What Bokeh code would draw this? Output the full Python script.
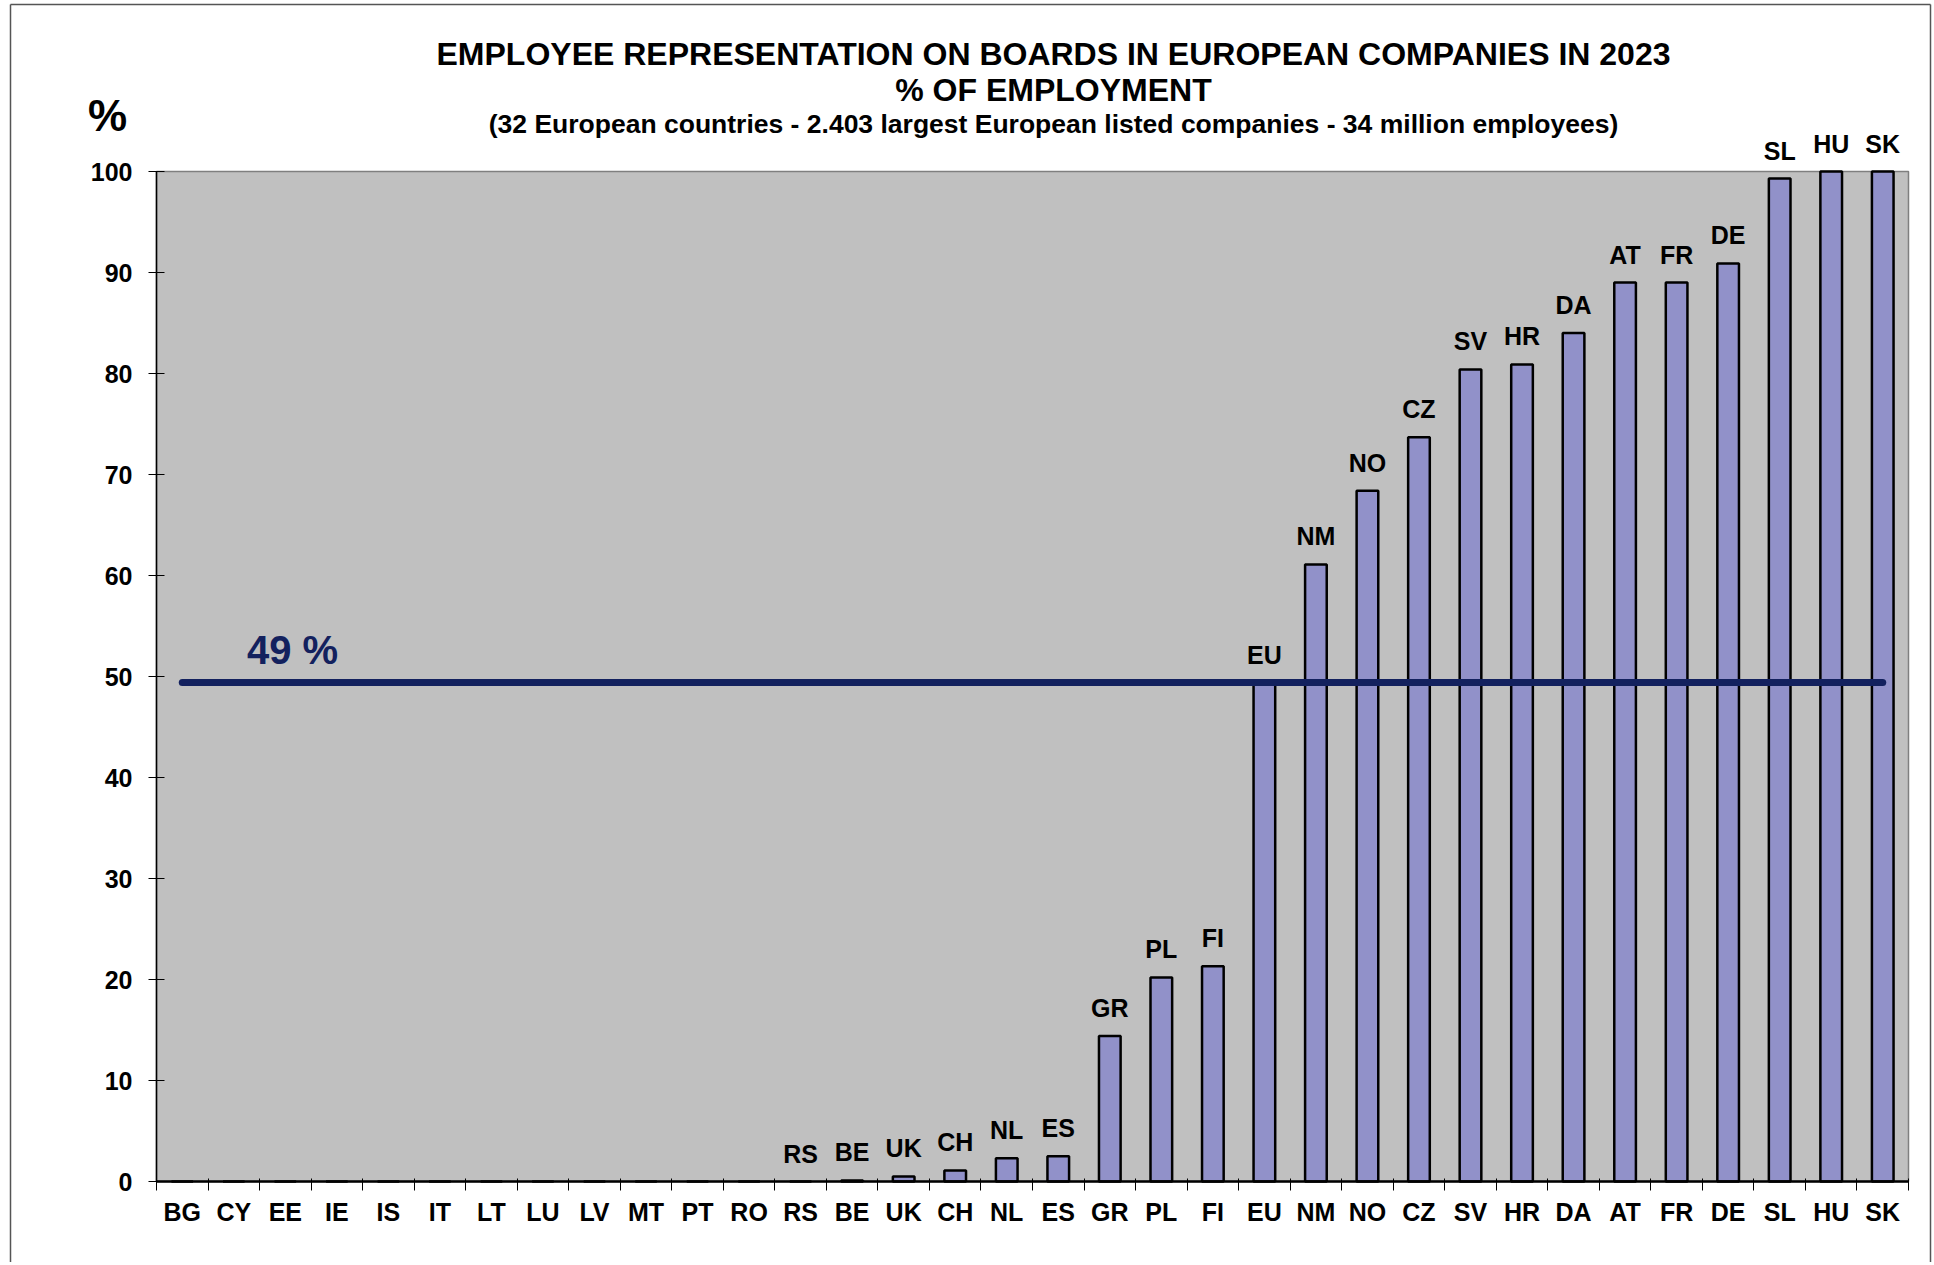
from bokeh.plotting import figure
from bokeh.models import ColumnDataSource, Range1d, FixedTicker, LabelSet, Label
from bokeh.core.properties import value
from bokeh.embed import file_html
from bokeh.resources import INLINE

# ---- data ----
countries = ["BG", "CY", "EE", "IE", "IS", "IT", "LT", "LU", "LV", "MT", "PT", "RO",
             "RS", "BE", "UK", "CH", "NL", "ES", "GR", "PL", "FI", "EU", "NM", "NO",
             "CZ", "SV", "HR", "DA", "AT", "FR", "DE", "SL", "HU", "SK"]
shares = [0, 0, 0, 0, 0, 0, 0, 0, 0, 0, 0, 0,
          0, 0.1, 0.5, 1.1, 2.3, 2.5, 14.4, 20.2, 21.3, 49.4, 61.1, 68.4,
          73.7, 80.4, 80.9, 84.0, 89.0, 89.0, 90.9, 99.3, 100, 100]
first_labelled = "RS"
eu_average = 49.4
eu_average_text = "49 %"
y_ticks = [0, 10, 20, 30, 40, 50, 60, 70, 80, 90, 100]

title1 = "EMPLOYEE REPRESENTATION ON BOARDS IN EUROPEAN COMPANIES IN 2023"
title2 = "% OF EMPLOYMENT"
subtitle = "(32 European countries - 2.403 largest European listed companies - 34 million employees)"

FONT = "Liberation Sans"
BAR = "#9191C9"
NAVY = "#13215E"
GREY = "#C0C0C0"

n = len(countries)
xs = [i + 0.5 for i in range(n)]

# ---- layout (page pixels) ----
W, H = 1934, 1262
AX_L, AX_R = 156, 1908      # plot area left / right edge
AX_B, AX_T = 1181, 171      # y=0 and y=100 positions
px_x = (AX_R - AX_L) / n
px_y = (AX_B - AX_T) / 100.0

x0 = -AX_L / px_x
x1 = n + (W - AX_R) / px_x
y0 = -(H - AX_B) / px_y
y1 = AX_B / px_y

def xv(px):
    return (px - AX_L) / px_x

def yv(py):
    return (AX_B - py) / px_y

p = figure(width=W, height=H, output_backend="svg", toolbar_location=None,
           x_range=Range1d(x0, x1), y_range=Range1d(y0, y1), min_border=0)
p.background_fill_color = "white"
p.border_fill_color = "white"
p.outline_line_color = None
p.xgrid.visible = False
p.ygrid.visible = False

# outer chart border (left, top, right)
bl, br, bt, bb = xv(10), xv(1930), yv(4), yv(H + 50)
p.segment(x0=[bl, bl, br], y0=[bb, bt, bt], x1=[bl, br, br], y1=[bt, bt, bb],
          line_color="#555555", line_width=1.5)

# grey plot area 0..100
p.quad(left=[0], right=[n], bottom=[0], top=[100], fill_color=GREY,
       line_color="#7F7F7F", line_width=1.5)

# y axis
p.yaxis.fixed_location = 0
p.yaxis.bounds = (0, 100)
p.yaxis.ticker = FixedTicker(ticks=y_ticks)
p.yaxis.major_label_text_font = FONT
p.yaxis.major_label_text_font_style = "bold"
p.yaxis.major_label_text_font_size = "25px"
p.yaxis.major_label_text_color = "black"
p.yaxis.major_tick_out = 8
p.yaxis.major_tick_in = 8
p.yaxis.minor_tick_line_color = None
p.yaxis.major_label_standoff = 16
p.yaxis.axis_line_color = "black"
p.yaxis.axis_line_width = 1.5

# x axis: labels at category centres, ticks at category boundaries
p.xaxis.fixed_location = 0
p.xaxis.bounds = (0, n)
p.xaxis.ticker = FixedTicker(ticks=xs, minor_ticks=list(range(n + 1)))
p.xaxis.major_label_overrides = {x: c for x, c in zip(xs, countries)}
p.xaxis.major_tick_out = 0
p.xaxis.major_tick_in = 0
p.xaxis.minor_tick_out = 9
p.xaxis.minor_tick_in = 3
p.xaxis.minor_tick_line_color = "black"
p.xaxis.major_label_standoff = 7
p.xaxis.major_label_text_font = FONT
p.xaxis.major_label_text_font_style = "bold"
p.xaxis.major_label_text_font_size = "25px"
p.xaxis.major_label_text_color = "black"
p.xaxis.axis_line_color = "black"
p.xaxis.axis_line_width = 2.5

src = ColumnDataSource(dict(x=xs, top=shares, name=countries))
p.vbar(x="x", top="top", width=0.42, source=src, fill_color=BAR,
       line_color="black", line_width=2.5)

# EU average line
p.line(x=[xs[0], xs[-1]], y=[eu_average, eu_average], line_color=NAVY,
       line_width=7, line_cap="round")
p.add_layout(Label(x=xv(292), y=eu_average + 3.2, text=eu_average_text,
                   text_font=FONT, text_font_style="bold", text_font_size="40px",
                   text_color=NAVY, text_align="center", text_baseline="middle"))

# bar labels
k = countries.index(first_labelled)
lsrc = ColumnDataSource(dict(x=xs[k:], y=shares[k:], name=countries[k:]))
p.add_layout(LabelSet(x="x", y="y", text="name", source=lsrc, y_offset=14,
                      text_font=value(FONT), text_font_style="bold",
                      text_font_size="25px", text_color="black",
                      text_align="center", text_baseline="bottom"))

# titles
tx = xv(1053)
for txt, py, fs in [(title1, 53, "32px"), (title2, 89, "32px"), (subtitle, 123, "26.5px")]:
    p.add_layout(Label(x=tx, y=yv(py), text=txt, text_font=FONT,
                       text_font_style="bold", text_font_size=fs,
                       text_color="black", text_align="center", text_baseline="middle"))

# "%" unit label above the y axis
p.add_layout(Label(x=xv(107), y=yv(115), text="%",
                   text_font=FONT, text_font_style="bold", text_font_size="44px",
                   text_color="black", text_align="center", text_baseline="middle"))

open("out.html", "w").write(file_html(p, INLINE))
